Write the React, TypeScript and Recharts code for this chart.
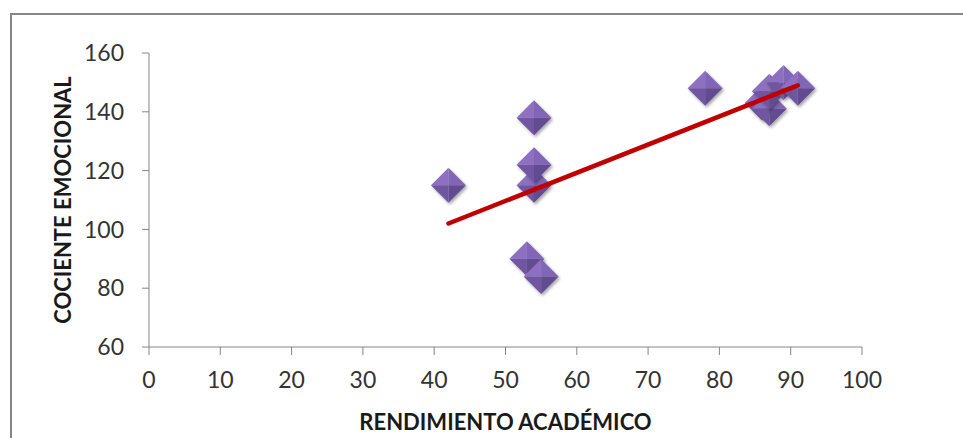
import { ScatterChart, Scatter, XAxis, YAxis } from 'recharts'

// Rendimiento académico (x) vs cociente emocional (y), one entry per student
const academic = [42, 54, 54, 54, 53, 55, 78, 86, 87, 87, 89, 91]
const emotional = [115, 138, 115, 122, 90, 84, 148, 143, 141, 147, 150, 148]

// linear trend line end points
const trendX = [42, 91]
const trendY = [102, 149]

const xTicks = [0, 10, 20, 30, 40, 50, 60, 70, 80, 90, 100]
const yTicks = [60, 80, 100, 120, 140, 160]

const points = academic.map((x, i) => ({ x, y: emotional[i] }))
const trend = trendX.map((x, i) => ({ x, y: trendY[i] }))

const FONT = 'Lato, "Open Sans", sans-serif'
const AXIS = '#868686'

const Diamond = (props: any) => {
    const { cx, cy } = props
    if (cx == null || cy == null) return null
    const r = 17.5
    const T = `${cx},${cy - r}`
    const R = `${cx + r},${cy}`
    const B = `${cx},${cy + r}`
    const L = `${cx - r},${cy}`
    const C = `${cx},${cy}`
    return (
        <g filter="url(#markerShadow)">
            <polygon points={`${C} ${L} ${T}`} fill="#8d70c2" />
            <polygon points={`${C} ${T} ${R}`} fill="#8165b6" />
            <polygon points={`${C} ${R} ${B}`} fill="#634b91" />
            <polygon points={`${C} ${B} ${L}`} fill="#6f56a0" />
        </g>
    )
}

const NoDot = () => <g />

export default function App() {
    return (
        <div style={{ position: 'absolute', left: 0, top: 0, width: 963, height: 438, overflow: 'hidden', background: '#fff' }}>
            <div
                style={{
                    position: 'absolute',
                    left: 10,
                    top: 13,
                    width: 980,
                    height: 460,
                    borderLeft: `2px solid ${AXIS}`,
                    borderTop: `2px solid ${AXIS}`,
                }}
            />
            <div style={{ position: 'absolute', left: 0, top: 0 }}>
                <ScatterChart width={963} height={438} margin={{ top: 53, right: 101, bottom: 0, left: 40 }}>
                    <defs>
                        <filter id="markerShadow" x="-50%" y="-50%" width="200%" height="200%">
                            <feDropShadow dx="1.5" dy="2" stdDeviation="1.5" floodColor="#000" floodOpacity="0.35" />
                        </filter>
                    </defs>
                    <XAxis
                        type="number"
                        dataKey="x"
                        domain={[0, 100]}
                        ticks={xTicks}
                        interval={0}
                        height={91}
                        stroke={AXIS}
                        tickSize={8}
                        tickMargin={17}
                        tick={{ fill: '#333', fontSize: 23, fontFamily: FONT }}
                        label={{
                            content: ({ viewBox }: any) => (
                                <text
                                    x={viewBox.x + viewBox.width / 2}
                                    y={viewBox.y + 83}
                                    textAnchor="middle"
                                    fontFamily={FONT}
                                    fontWeight={700}
                                    fontSize={22}
                                    fill="#1a1a1a"
                                >
                                    RENDIMIENTO ACADÉMICO
                                </text>
                            ),
                        }}
                    />
                    <YAxis
                        type="number"
                        dataKey="y"
                        domain={[60, 160]}
                        ticks={yTicks}
                        interval={0}
                        width={109}
                        stroke={AXIS}
                        tickSize={7}
                        tickMargin={18}
                        tick={{ fill: '#333', fontSize: 23, fontFamily: FONT }}
                        label={{
                            content: ({ viewBox }: any) => {
                                const cx = viewBox.x + 22
                                const cy = viewBox.y + viewBox.height / 2
                                return (
                                    <text
                                        x={cx}
                                        y={cy}
                                        transform={`rotate(-90 ${cx} ${cy})`}
                                        textAnchor="middle"
                                        dominantBaseline="central"
                                        fontFamily={FONT}
                                        fontWeight={700}
                                        fontSize={22}
                                        fill="#1a1a1a"
                                    >
                                        COCIENTE EMOCIONAL
                                    </text>
                                )
                            },
                        }}
                    />
                    <Scatter data={points} shape={Diamond} isAnimationActive={false} />
                    <Scatter
                        data={trend}
                        shape={NoDot}
                        line={{ stroke: '#c00000', strokeWidth: 4.5, strokeLinecap: 'round' }}
                        isAnimationActive={false}
                    />
                </ScatterChart>
            </div>
        </div>
    )
}
